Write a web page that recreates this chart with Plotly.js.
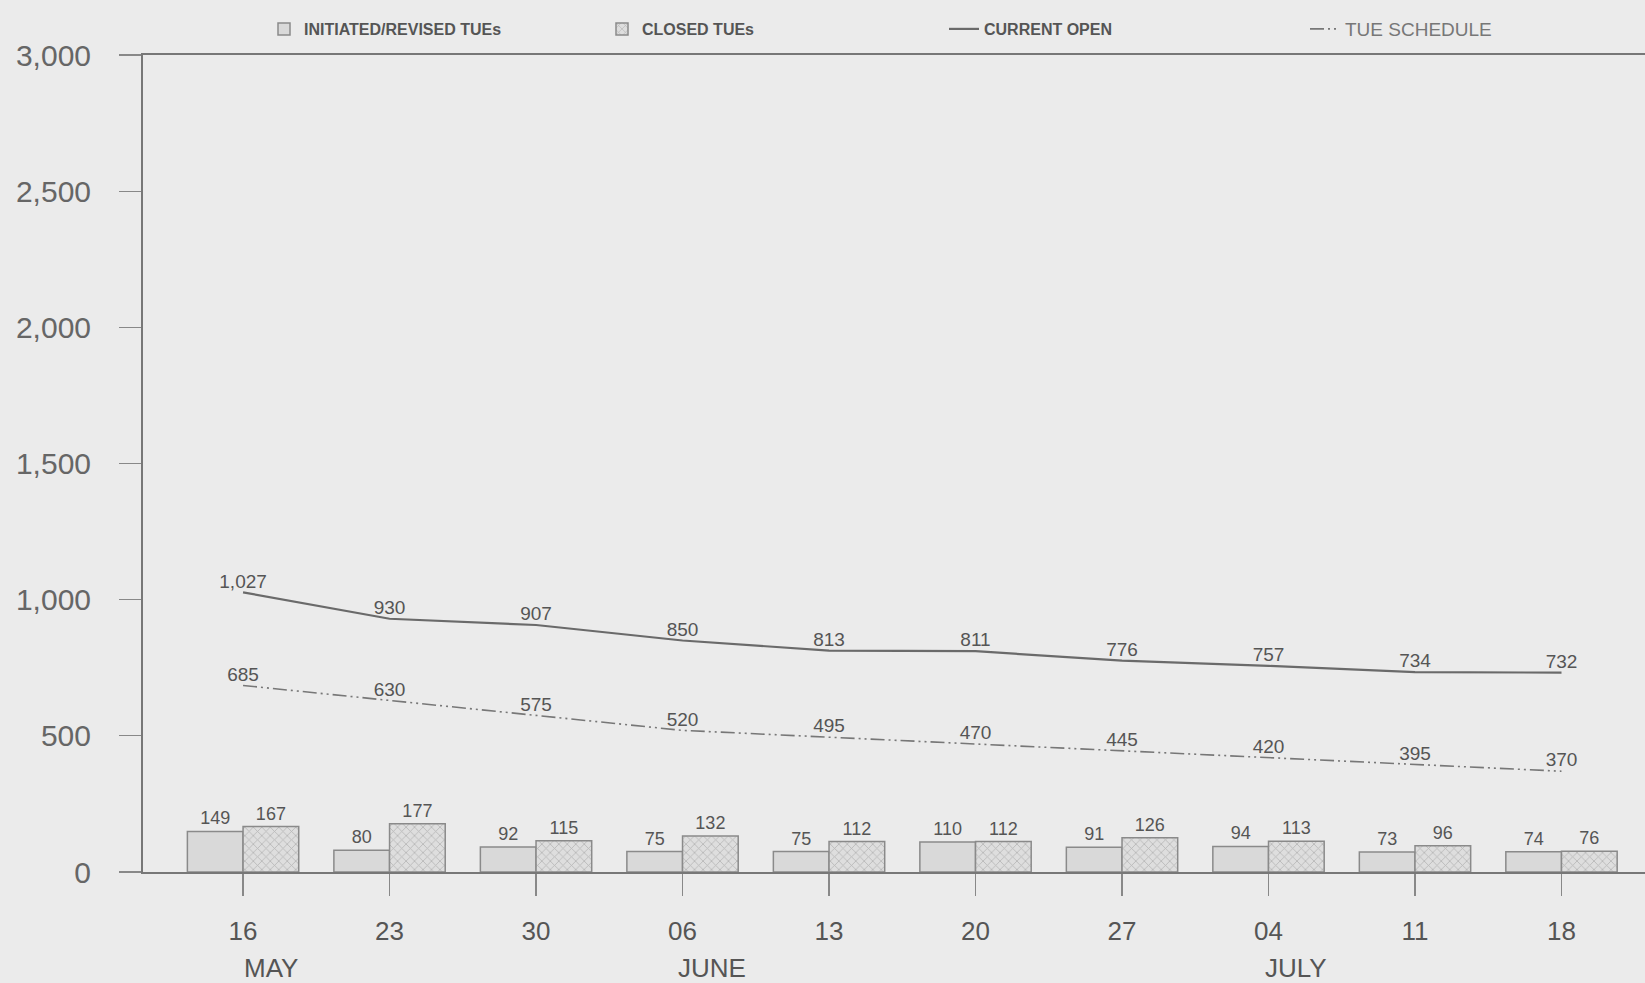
<!DOCTYPE html>
<html>
<head>
<meta charset="utf-8">
<script src="https://cdn.plot.ly/plotly-3.0.1.min.js"></script>
<style>html,body{margin:0;padding:0;background:#ebebeb;}#chart{width:1645px;height:983px;}</style>
</head>
<body>
<div id="chart"></div>
<script>
const weeks = ['16','23','30','06','13','20','27','04','11','18'];
const months = ['MAY','JUNE','JULY'];
const monthPos = [0.19, 3.2, 7.19];
const initiated = [149, 80, 92, 75, 75, 110, 91, 94, 73, 74];
const closed = [167, 177, 115, 132, 112, 112, 126, 113, 96, 76];
const currentOpen = [1027, 930, 907, 850, 813, 811, 776, 757, 734, 732];
const tueSchedule = [685, 630, 575, 520, 495, 470, 445, 420, 395, 370];

const W = 0.38;
const barFont = {family: 'Liberation Sans, Arial, sans-serif', size: 18, color: '#555'};
const lineFont = {family: 'Liberation Sans, Arial, sans-serif', size: 19, color: '#555'};
const legFont = {family: 'Liberation Sans Narrow, Liberation Sans, sans-serif', size: 16, color: '#555', weight: 'bold'};

const traces = [
  {type: 'bar', name: 'INITIATED/REVISED TUEs', x: weeks, y: initiated,
   width: W, offset: -W,
   marker: {color: '#d9d9d9', line: {color: '#8a8a8a', width: 1.5}},
   text: initiated.map(String), textposition: 'outside', textfont: barFont, cliponaxis: false,
   legend: 'legend'},
  {type: 'bar', name: 'CLOSED TUEs', x: weeks, y: closed,
   width: W, offset: 0,
   marker: {color: '#dcdcdc', line: {color: '#8a8a8a', width: 1.5},
            pattern: {shape: 'x', size: 6, solidity: 0.25, fgcolor: '#8c8c8c', bgcolor: '#dedede', fillmode: 'overlay'}},
   text: closed.map(String), textposition: 'outside', textfont: barFont, cliponaxis: false,
   legend: 'legend2'},
  {type: 'scatter', mode: 'lines+text', name: 'CURRENT OPEN', x: weeks, y: currentOpen,
   line: {color: '#6a6a6a', width: 2.2},
   texttemplate: '%{y:,}', textposition: 'top center', textfont: lineFont, cliponaxis: false,
   legend: 'legend3'},
  {type: 'scatter', mode: 'lines+text', name: 'TUE SCHEDULE', x: weeks, y: tueSchedule,
   line: {color: '#777', width: 1.6, dash: '14px,4px,2px,4px,2px,4px'},
   texttemplate: '%{y:,}', textposition: 'top center', textfont: lineFont, cliponaxis: false,
   legend: 'legend4'}
];

const annotations = months.map((m, i) => ({
  text: m, x: monthPos[i], xref: 'x', y: -0.118, yref: 'paper', yanchor: 'middle', xanchor: 'center',
  showarrow: false, font: {family: 'Liberation Sans, Arial, sans-serif', size: 26, color: '#555'}
}));

const legBase = {orientation: 'h', xref: 'container', yref: 'container', yanchor: 'middle', xanchor: 'left',
  bgcolor: 'rgba(0,0,0,0)', y: 1 - 29/983, font: legFont};

const layout = {
  width: 1645, height: 983,
  paper_bgcolor: '#ebebeb', plot_bgcolor: '#ebebeb',
  margin: {l: 143, r: 0, t: 55, b: 111},
  barmode: 'overlay',
  showlegend: true,
  legend: Object.assign({}, legBase, {x: 264/1645}),
  legend2: Object.assign({}, legBase, {x: 602/1645}),
  legend3: Object.assign({}, legBase, {x: 944/1645}),
  legend4: Object.assign({}, legBase, {x: 1305/1645, font: {family: 'Liberation Sans Narrow, Liberation Sans, sans-serif', size: 19, color: '#777'}}),
  xaxis: {
    type: 'category', range: [-0.683, 9.57],
    tickvals: weeks, ticktext: weeks,
    showline: true, linecolor: '#777', linewidth: 2, mirror: true,
    ticks: 'outside', ticklen: 22, tickcolor: '#888', tickwidth: 1.2,
    ticklabelstandoff: 13,
    tickfont: {family: 'Liberation Sans, Arial, sans-serif', size: 26, color: '#555'},
    showgrid: false, zeroline: false, fixedrange: true
  },
  yaxis: {
    range: [0, 3000], tickvals: [0, 500, 1000, 1500, 2000, 2500, 3000], tickformat: ',d',
    showline: true, linecolor: '#777', linewidth: 2,
    ticks: 'outside', ticklen: 22, tickcolor: '#888', tickwidth: 1.2,
    ticklabelstandoff: 22,
    tickfont: {family: 'Liberation Sans, Arial, sans-serif', size: 30, color: '#666'},
    showgrid: false, zeroline: false, fixedrange: true
  },
  annotations: annotations
};

Plotly.newPlot('chart', traces, layout, {displayModeBar: false, staticPlot: true});
</script>
</body>
</html>
